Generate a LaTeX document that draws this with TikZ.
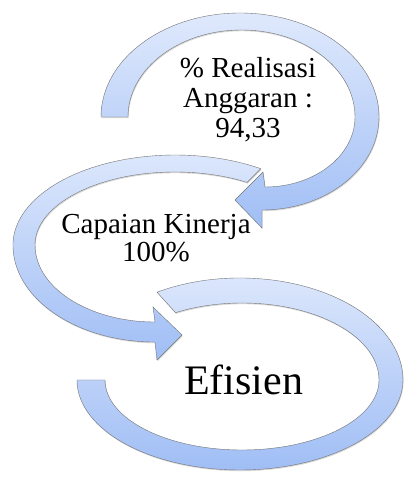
\documentclass[tikz,border=0pt]{standalone}
\usepackage{fontspec}
\setmainfont{Liberation Serif}
\usepackage{tikz}
\usetikzlibrary{shadows}
\definecolor{bandtop}{RGB}{223,233,252}
\definecolor{bandbot}{RGB}{160,190,245}

\begin{document}
\begin{tikzpicture}[x=1pt, y=1pt,
  band/.style={top color=bandtop, bottom color=bandbot, draw=black!55, line width=0.4pt,
    drop shadow={shadow xshift=0.6pt, shadow yshift=-1.2pt, opacity=0.3}},
  label/.style={align=center, inner sep=0pt, text=black}]
  \useasboundingbox (0,0) rectangle (405,479);
  \draw[band] (101,362) arc[start angle=180, end angle=0, x radius=139, y radius=104]
    arc[start angle=0, end angle=-90, x radius=117, y radius=93]
    -- (262,251) -- (235,279) -- (263,307) -- (265,292)
    arc[start angle=-90, end angle=0, x radius=90, y radius=70]
    arc[start angle=0, end angle=180, x radius=113.5, y radius=87] -- cycle;
  \draw[band] (260.8,310.3) arc[start angle=58, end angle=180, x radius=162, y radius=90]
    arc[start angle=180, end angle=270, x radius=142, y radius=97]
    -- (157,119) -- (182,144) -- (153,172) -- (155,157)
    arc[start angle=270, end angle=180, x radius=120, y radius=77]
    arc[start angle=180, end angle=59, x radius=140, y radius=73] -- cycle;
  \draw[band] (157,186.8) arc[start angle=120.6, end angle=0, x radius=163, y radius=102]
    arc[start angle=0, end angle=-180, x radius=163, y radius=90]
    -- (105,99)
    arc[start angle=180, end angle=360, x radius=137, y radius=70]
    arc[start angle=0, end angle=119, x radius=137, y radius=77] -- cycle;
  \node[label, font=\fontsize{29}{30}\selectfont] (realisasi) at (248,379) {\% Realisasi\\Anggaran :\\94,33};
  \node[label, font=\fontsize{29}{28}\selectfont] (capaian) at (156,240.5) {Capaian Kinerja\\100\%};
  \node[label, font=\fontsize{42}{42}\selectfont, anchor=base] (efisien) at (243.5,84) {Efisien};
\end{tikzpicture}
\end{document}
